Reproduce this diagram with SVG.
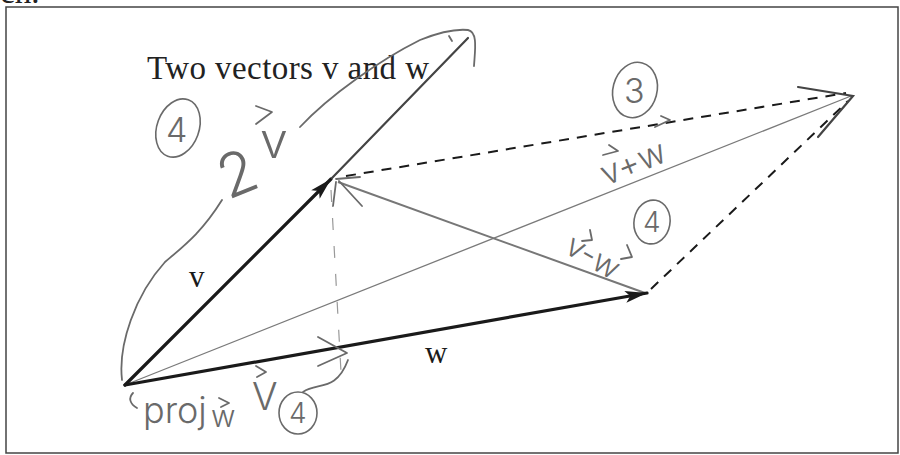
<svg xmlns="http://www.w3.org/2000/svg" width="900" height="455" viewBox="0 0 900 455">
  <style>
    .frame { fill: none; stroke: #444; stroke-width: 1.5; }
    .title { font-family: "Liberation Serif", serif; font-size: 33px; fill: #222; }
    .lbl { font-family: "Liberation Serif", serif; font-size: 31px; fill: #1a1a1a; }
    .vec { stroke: #1a1a1a; stroke-width: 3.2; fill: none; stroke-linecap: round; }
    .dash { stroke: #1a1a1a; stroke-width: 2; fill: none; stroke-dasharray: 10 8; }
    .thin { stroke: #7a7a7a; stroke-width: 1.3; fill: none; }
    .diff { stroke: #777; stroke-width: 2; fill: none; }
    .proj { stroke: #999; stroke-width: 1.2; fill: none; stroke-dasharray: 12 16; }
    .hand { stroke: #6a6a6a; stroke-width: 1.8; fill: none; stroke-linecap: round; stroke-linejoin: round; }
    .handdark { stroke: #444; stroke-width: 2.2; fill: none; stroke-linecap: round; }
    .ht { font-family: Inter, "DejaVu Sans", sans-serif; font-weight: 300; fill: #6a6a6a; }
    .circ { fill: none; stroke: #6a6a6a; stroke-width: 1.6; }
  </style>
  <defs>
    <marker id="arr" markerUnits="userSpaceOnUse" markerWidth="24" markerHeight="14" refX="22" refY="7" orient="auto">
      <path d="M0,1 L22,7 L0,13 L5,7 Z" fill="#1a1a1a"/>
    </marker>
  </defs>
  <rect width="900" height="455" fill="#fff"/>
  <text x="0" y="3" class="title" font-size="20">ch.</text>
  <rect id="frame" class="frame" x="6" y="7" width="892" height="446"/>

  <g id="title">
    <text class="title" x="147" y="79" textLength="282" lengthAdjust="spacing">Two vectors v and w</text>
  </g>

  <g id="connectors">
    <line class="thin" x1="125" y1="385" x2="851" y2="96"/>
    <line class="diff" x1="645" y1="293" x2="338" y2="182"/>
    <line class="proj" x1="331" y1="190" x2="341" y2="372"/>
    <line class="dash" x1="346" y1="176" x2="846" y2="93"/>
    <line class="dash" x1="651" y1="289" x2="848" y2="101"/>
    <line class="vec" x1="125" y1="385" x2="331" y2="179" marker-end="url(#arr)"/>
    <line class="vec" x1="125" y1="385" x2="647" y2="293" marker-end="url(#arr)"/>
  </g>

  <g id="label-v"><text class="lbl" x="189" y="287">v</text></g>
  <g id="label-w"><text class="lbl" x="425" y="363">w</text></g>

  <g id="annotation-2v">
    <line class="handdark" x1="332" y1="178" x2="468" y2="38"/>
    <path class="hand" d="M300,127 C330,95 380,60 420,40 C440,32 458,29 468,30 C478,32 475,50 474,66"/>
    <path class="hand" d="M449,36 L452,41"/>
    <path class="hand" d="M122,380 C118,345 135,295 165,262 C185,245 202,232 222,200"/>
    <text class="ht" font-size="60" transform="translate(228,200) rotate(-22)">2</text>
    <text class="ht" font-size="50" x="260" y="158">v</text>
    <path class="hand" d="M256,106 L272,112 L256,124"/>
    <ellipse class="circ" cx="178" cy="128" rx="21" ry="30" transform="rotate(20 178 128)"/>
    <text class="ht" font-size="34" x="166" y="142">4</text>
  </g>

  <g id="annotation-sum">
    <text class="ht" font-size="34" transform="translate(606,186) rotate(-22)">v+w</text>
    <path class="hand" d="M603,155 L618,151 L609,145"/>
    <path class="hand" d="M655,127 L670,120 L661,116"/>
    <path class="handdark" d="M798,87 L853,96 L818,137"/>
    <ellipse class="circ" cx="635" cy="90" rx="22" ry="28" transform="rotate(15 635 90)"/>
    <text class="ht" font-size="34" x="624" y="103">3</text>
  </g>

  <g id="annotation-diff">
    <text class="ht" font-size="32" transform="translate(563,252) rotate(30)">v-w</text>
    <path class="hand" d="M590,230 L592,240 L582,241"/>
    <path class="hand" d="M627,245 L632,257 L621,259"/>
    <path class="hand" d="M336,182 L333,206 M339,181 L362,206 M336,179 L360,177"/>
    <ellipse class="circ" cx="652" cy="222" rx="18" ry="22" transform="rotate(10 652 222)"/>
    <text class="ht" font-size="28" x="643" y="232">4</text>
  </g>

  <g id="annotation-proj">
    <text class="ht" font-size="36" x="143" y="423">proj</text>
    <text class="ht" font-size="30" x="211" y="427">w</text>
    <path class="hand" d="M219,398 L229,403 L221,407"/>
    <text class="ht" font-size="38" x="252" y="410">V</text>
    <path class="hand" d="M256,366 L266,372 L257,377"/>
    <ellipse class="circ" cx="298" cy="413" rx="19" ry="21"/>
    <text class="ht" font-size="28" x="289" y="423">4</text>
    <path class="hand" d="M303,392 C318,382 336,392 348,360"/>
    <path class="hand" d="M318,337 L347,353 L318,366"/>
    <path class="hand" d="M133,393 C128,398 130,404 137,408"/>
  </g>
</svg>
